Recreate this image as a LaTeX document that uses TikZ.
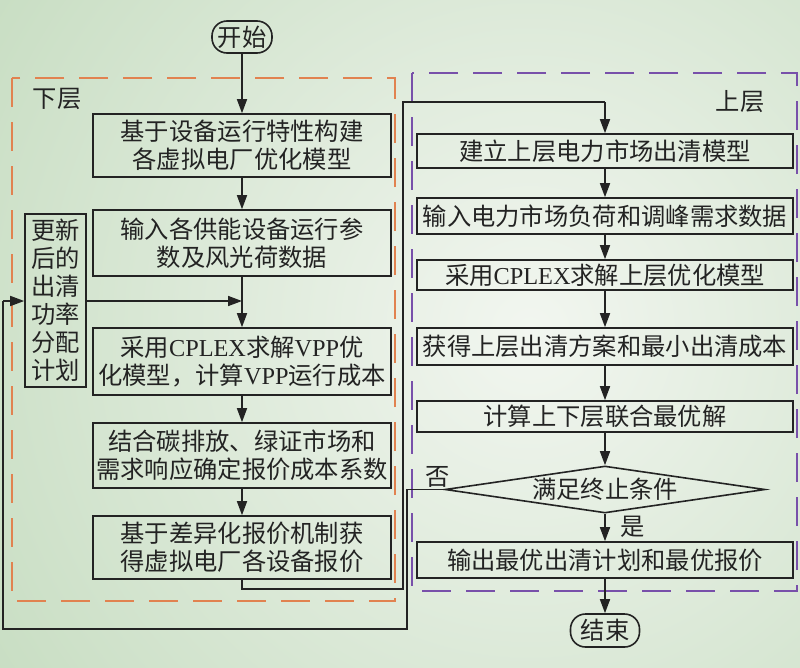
\documentclass[tikz,border=0pt]{standalone}
\usepackage{fontspec}
\newfontfamily\cjk{Noto Sans CJK SC}
\newfontfamily\lat{Liberation Serif}
\usetikzlibrary{arrows.meta,shapes.geometric}
\definecolor{bgout}{RGB}{192,217,186}
\definecolor{bgin}{RGB}{242,246,240}
\definecolor{ink}{RGB}{35,35,35}
\definecolor{orangeline}{RGB}{225,130,80}
\definecolor{purpleline}{RGB}{120,80,170}
\tikzset{
  x=1pt,y=-1pt,
  txt/.style={font=\cjk\fontsize{24.3}{28}\selectfont, text=ink, align=center, inner sep=0pt},
  boxL/.style={txt, draw=ink, line width=1.6pt, minimum width=298pt},
  boxU/.style={txt, draw=ink, line width=1.6pt, minimum width=376pt},
  term/.style={txt, draw=ink, line width=1.6pt, rounded corners=15pt},
  decision/.style={txt, draw=ink, line width=1.6pt, diamond, aspect=6.8, minimum width=320pt, minimum height=47pt},
  conn/.style={draw=ink, line width=1.6pt},
  arr/.style={conn, -{Triangle[length=14pt,width=10pt]}},
  layer/.style={line width=1.8pt, dash pattern=on 29pt off 15pt},
  lbl/.style={txt}
}
\begin{document}
\begin{tikzpicture}
\useasboundingbox (0,0) rectangle (800,667);
\fill[bgout] (0,0) rectangle (800,667);
\begin{scope}
\clip (0,0) rectangle (800,667);
\shade[inner color=bgin, outer color=bgout] (530,330) circle (760);
\end{scope}

% layer frames
\draw[layer, orangeline] (12,78) rectangle (395,601);
\draw[layer, purpleline] (412,73) rectangle (797,591);
\node[lbl] (lowlbl) at (57,99) {下层};
\node[lbl] (uplbl) at (740,102) {上层};

% start
\node[term, minimum width=60pt, minimum height=32pt] (start) at (242,37) {开始};

% lower layer
\node[boxL, minimum height=63pt] (L1) at (242,145.5) {基于设备运行特性构建\\各虚拟电厂优化模型};
\node[boxL, minimum height=66pt] (L2) at (242,243) {输入各供能设备运行参\\数及风光荷数据};
\node[boxL, minimum height=67pt] (L3) at (242,361.5) {采用{\lat CPLEX}求解{\lat VPP}优\\化模型，计算{\lat VPP}运行成本};
\node[boxL, minimum height=65pt] (L4) at (242,455.5) {结合碳排放、绿证市场和\\需求响应确定报价成本系数};
\node[boxL, minimum height=63pt] (L5) at (242,547.5) {基于差异化报价机制获\\得虚拟电厂各设备报价};
\node[txt, draw=ink, line width=1.6pt, minimum width=61pt, minimum height=173pt] (upd) at (55.5,300.5) {更新\\后的\\出清\\功率\\分配\\计划};

% upper layer
\node[boxU, minimum height=34pt] (U1) at (605,151) {建立上层电力市场出清模型};
\node[boxU, minimum height=36pt] (U2) at (605,216) {输入电力市场负荷和调峰需求数据};
\node[boxU, minimum height=30pt] (U3) at (605,275) {采用{\lat CPLEX}求解上层优化模型};
\node[boxU, minimum height=37pt] (U4) at (605,346.5) {获得上层出清方案和最小出清成本};
\node[boxU, minimum height=31pt] (U5) at (605,416.5) {计算上下层联合最优解};
\node[decision] (dec) at (605,489.5) {满足终止条件};
\node[boxU, minimum height=36pt] (U6) at (605,560) {输出最优出清计划和最优报价};
\node[term, minimum width=69pt, minimum height=33pt] (stop) at (605,630.5) {结束};

\node[lbl] (no) at (438,477) {否};
\node[lbl] (yes) at (633,527) {是};

% connector corners
\coordinate (c1) at (242,589);
\coordinate (c2) at (403,589);
\coordinate (c3) at (403,102);
\coordinate (c4) at (605,102);
\coordinate (d1) at (407,489.5);
\coordinate (d2) at (407,629);
\coordinate (d3) at (3,629);
\coordinate (d4) at (3,301);

% connectors
\draw[arr] (start) -- (L1);
\draw[arr] (L1) -- (L2);
\draw[arr] (L2) -- (L3);
\draw[arr] (L3) -- (L4);
\draw[arr] (L4) -- (L5);
\draw[arr] (upd.east |- d4) -- (L2.south |- d4);
\draw[conn] (L5.south) -- (c1) -- (c2) -- (c3) -- (c4);
\draw[arr] (c4) -- (U1.north);
\draw[arr] (U1) -- (U2);
\draw[arr] (U2) -- (U3);
\draw[arr] (U3) -- (U4);
\draw[arr] (U4) -- (U5);
\draw[arr] (U5) -- (dec);
\draw[arr] (dec) -- (U6);
\draw[arr] (U6) -- (stop);
\draw[conn] (dec.west) -- (d1) -- (d2) -- (d3) -- (d4);
\draw[arr] (d4) -- (upd.west |- d4);
\end{tikzpicture}
\end{document}
